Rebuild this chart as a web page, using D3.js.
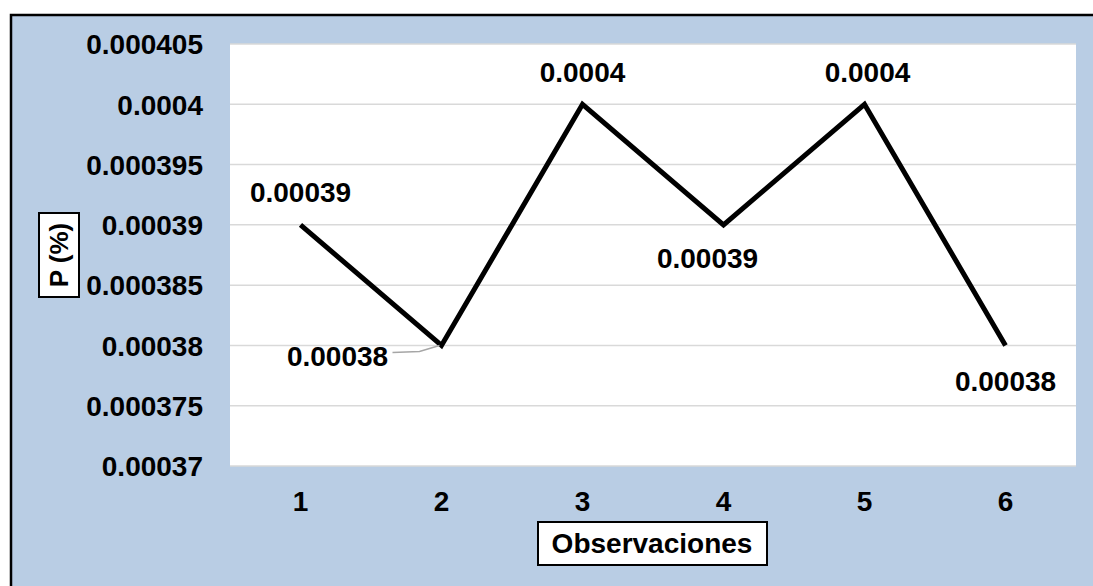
<!DOCTYPE html>
<html>
<head>
<meta charset="utf-8">
<script src="https://cdn.jsdelivr.net/npm/d3@7"></script>
<style>
  body { margin: 0; background: #ffffff; }
  svg text { font-family: "Liberation Sans", Arial, sans-serif; font-weight: bold; fill: #000; }
</style>
</head>
<body>
<svg id="chart" width="1093" height="586"></svg>
<script>
// Observation numbers and measured P values
const categories = ["1", "2", "3", "4", "5", "6"];
const values = [0.00039, 0.00038, 0.0004, 0.00039, 0.0004, 0.00038];
const labels = ["0.00039", "0.00038", "0.0004", "0.00039", "0.0004", "0.00038"];
const yTicks = [0.00037, 0.000375, 0.00038, 0.000385, 0.00039, 0.000395, 0.0004, 0.000405];
const yTickLabels = ["0.00037", "0.000375", "0.00038", "0.000385", "0.00039", "0.000395", "0.0004", "0.000405"];

const svg = d3.select("#chart");
const W = 1093, H = 586;
const plot = { left: 230, top: 44, right: 1076, bottom: 466 };
const FS = "28px";

// Outer chart area
svg.append("rect")
  .attr("x", 11).attr("y", 15)
  .attr("width", W + 10).attr("height", H + 10)
  .attr("fill", "#b9cde4")
  .attr("stroke", "#000").attr("stroke-width", 2.5);

// Plot area
svg.append("rect")
  .attr("x", plot.left).attr("y", plot.top)
  .attr("width", plot.right - plot.left).attr("height", plot.bottom - plot.top)
  .attr("fill", "#ffffff");

const x = d3.scaleBand().domain(categories).range([plot.left, plot.right]);
const y = d3.scaleLinear().domain([0.00037, 0.000405]).range([plot.bottom, plot.top]);

// Horizontal gridlines
svg.append("g").selectAll("line").data(yTicks).join("line")
  .attr("x1", plot.left).attr("x2", plot.right)
  .attr("y1", d => y(d)).attr("y2", d => y(d))
  .attr("stroke", "#d9d9d9").attr("stroke-width", 1.5);

// Y axis tick labels
const yAxis = d3.axisLeft(y).tickValues(yTicks)
  .tickFormat((d, i) => yTickLabels[i]).tickSize(0).tickPadding(27);
const gy = svg.append("g").attr("transform", `translate(${plot.left},0)`).call(yAxis);
gy.select(".domain").remove();
gy.attr("font-family", null).attr("font-size", null);
gy.selectAll("text").style("font-size", FS).attr("dy", "0.35em");

// X axis tick labels
const xAxis = d3.axisBottom(x).tickSize(0).tickPadding(25);
const gx = svg.append("g").attr("transform", `translate(0,${plot.bottom})`).call(xAxis);
gx.select(".domain").remove();
gx.attr("font-family", null).attr("font-size", null);
gx.selectAll("text").style("font-size", FS).attr("dy", "0.71em");

// Data line
const cx = (d, i) => x(categories[i]) + x.bandwidth() / 2;
const line = d3.line().x(cx).y(d => y(d));
svg.append("path").datum(values)
  .attr("d", line)
  .attr("fill", "none")
  .attr("stroke", "#000")
  .attr("stroke-width", 5)
  .attr("stroke-linejoin", "miter");

// Data labels (offsets relative to each point)
const labelOffsets = [
  [0, -33], [-104, 11], [0, -32], [-16, 33], [3, -32], [0, 36]
];
svg.append("g").selectAll("text").data(values).join("text")
  .attr("x", (d, i) => cx(d, i) + labelOffsets[i][0])
  .attr("y", (d, i) => y(d) + labelOffsets[i][1])
  .attr("text-anchor", "middle")
  .attr("dy", "0.35em")
  .style("font-size", FS)
  .text((d, i) => labels[i]);

// Leader line for the second label
const p2x = cx(values[1], 1), p2y = y(values[1]);
svg.append("polyline")
  .attr("points", `${p2x - 49},${p2y + 7} ${p2x - 22},${p2y + 6} ${p2x - 2},${p2y}`)
  .attr("fill", "none").attr("stroke", "#a6a6a6").attr("stroke-width", 1.5);

// Y axis title in a box
const yt = svg.append("g").attr("transform", "translate(59,255) rotate(-90)");
yt.append("rect").attr("x", -42).attr("y", -20).attr("width", 84).attr("height", 40)
  .attr("fill", "#fff").attr("stroke", "#000").attr("stroke-width", 2);
yt.append("text").attr("text-anchor", "middle").attr("dy", "0.35em")
  .style("font-size", "26px").text("P (%)");

// X axis title in a box
const xt = svg.append("g").attr("transform", "translate(652,543)");
xt.append("rect").attr("x", -114).attr("y", -21).attr("width", 229).attr("height", 43)
  .attr("fill", "#fff").attr("stroke", "#000").attr("stroke-width", 2);
xt.append("text").attr("text-anchor", "middle").attr("dy", "0.35em")
  .style("font-size", FS).text("Observaciones");
</script>
</body>
</html>
